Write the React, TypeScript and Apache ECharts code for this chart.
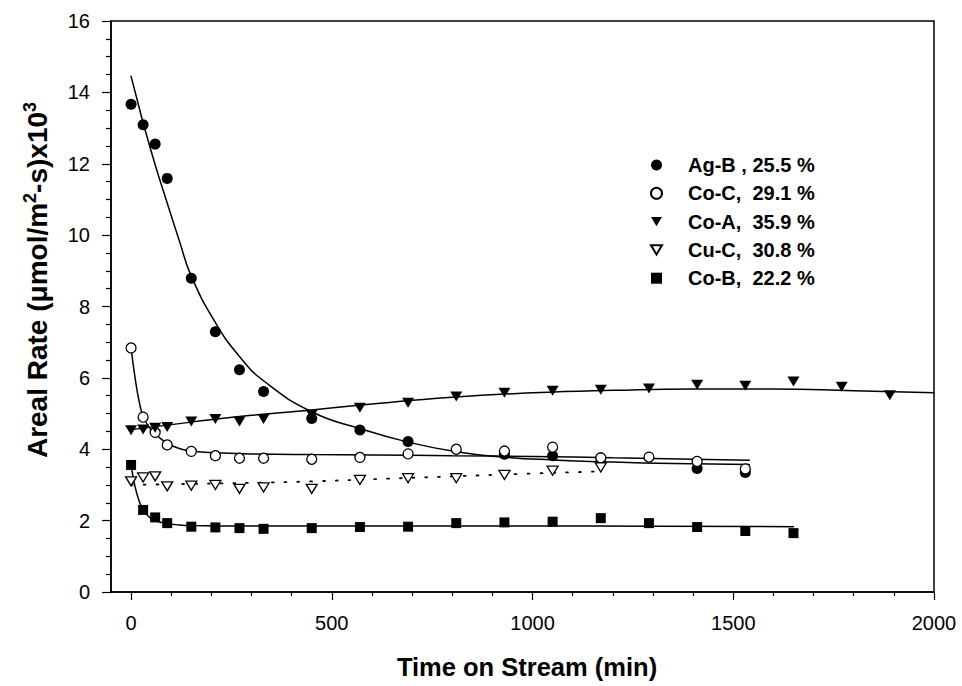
import React, { useEffect, useRef } from "react";
import * as echarts from "echarts";

const FONT = '"Liberation Sans", Arial, Helvetica, sans-serif';

// Sampling times (min)
const timesAgB = [0, 30, 60, 90, 150, 210, 270, 330, 450, 570, 690, 930, 1050, 1170, 1410, 1530];
const timesFull = [0, 30, 60, 90, 150, 210, 270, 330, 450, 570, 690, 810, 930, 1050, 1170, 1290, 1410, 1530];
const timesCoA = [0, 30, 60, 90, 150, 210, 270, 330, 450, 570, 690, 810, 930, 1050, 1170, 1290, 1410, 1530, 1650, 1770, 1890];
const timesCuC = [0, 30, 60, 90, 150, 210, 270, 330, 450, 570, 690, 810, 930, 1050, 1170];
const timesCoB = [0, 30, 60, 90, 150, 210, 270, 330, 450, 570, 690, 810, 930, 1050, 1170, 1290, 1410, 1530, 1650];

// Areal rate (µmol/m²·s × 10³)
const rateAgB = [13.67, 13.09, 12.55, 11.59, 8.79, 7.29, 6.23, 5.62, 4.86, 4.54, 4.22, 3.86, 3.82, 3.75, 3.46, 3.35];
const rateCoC = [6.84, 4.9, 4.47, 4.12, 3.94, 3.82, 3.75, 3.75, 3.72, 3.77, 3.87, 4.0, 3.95, 4.06, 3.76, 3.78, 3.66, 3.45];
const rateCoA = [4.53, 4.55, 4.6, 4.62, 4.78, 4.85, 4.78, 4.85, 4.97, 5.16, 5.3, 5.48, 5.58, 5.64, 5.67, 5.7, 5.81, 5.78, 5.9, 5.75, 5.51];
const rateCuC = [3.1, 3.21, 3.24, 2.96, 2.98, 3.0, 2.89, 2.93, 2.89, 3.14, 3.19, 3.19, 3.28, 3.4, 3.49];
const rateCoB = [3.56, 2.3, 2.09, 1.93, 1.83, 1.81, 1.79, 1.77, 1.79, 1.82, 1.83, 1.93, 1.95, 1.97, 2.07, 1.93, 1.82, 1.71, 1.65];

// Fitted trend curves: [time, rate]
const fitAgB = [[0, 14.45], [15, 13.8], [30, 13.15], [60, 11.97], [90, 10.9], [120, 9.85], [150, 8.85], [210, 7.55], [270, 6.6], [330, 5.92], [450, 5.05], [570, 4.58], [690, 4.2], [810, 3.93], [930, 3.78], [1050, 3.7], [1200, 3.64], [1350, 3.6], [1540, 3.57]];
const fitCoC = [[0, 6.84], [10, 6.0], [20, 5.35], [30, 4.92], [45, 4.62], [60, 4.43], [90, 4.17], [120, 4.02], [150, 3.95], [210, 3.9], [300, 3.87], [450, 3.85], [600, 3.84], [800, 3.82], [1000, 3.8], [1200, 3.76], [1400, 3.72], [1540, 3.69]];
const fitCoA = [[0, 4.55], [150, 4.76], [300, 4.95], [450, 5.1], [600, 5.27], [800, 5.46], [1000, 5.58], [1200, 5.65], [1400, 5.69], [1600, 5.69], [1800, 5.64], [2000, 5.58]];
const fitCuC = [[0, 3.0], [150, 3.03], [300, 3.06], [450, 3.1], [600, 3.16], [800, 3.24], [1000, 3.32], [1170, 3.38]];
const fitCoB = [[0, 3.56], [10, 2.95], [20, 2.55], [30, 2.3], [45, 2.1], [60, 2.0], [90, 1.92], [120, 1.88], [150, 1.86], [300, 1.85], [600, 1.85], [1000, 1.85], [1300, 1.84], [1650, 1.83]];

const legendNames = ["Ag-B , 25.5 %", "Co-C,  29.1 %", "Co-A,  35.9 %", "Cu-C,  30.8 %", "Co-B,  22.2 %"];

const xMajor = [0, 500, 1000, 1500, 2000];
const xMinor = [100, 200, 300, 400, 600, 700, 800, 900, 1100, 1200, 1300, 1400, 1600, 1700, 1800, 1900];

const DOWN_TRI = "path://M0,0L12,0L6,10Z";

const zip = (xs: number[], ys: number[]) => xs.map((x, i) => [x, ys[i]]);

const filled = { color: "#000", opacity: 1 };
const hollow = { color: "#fff", borderColor: "#000", borderWidth: 1.3, opacity: 1 };

function fitLine(name: string, data: number[][], dotted = false) {
  return {
    name,
    type: "line",
    data,
    showSymbol: false,
    smooth: 0.5,
    silent: true,
    z: 1,
    lineStyle: {
      color: "#000",
      width: dotted ? 1.8 : 1.5,
      type: dotted ? [1.8, 11] : "solid",
      cap: "round",
    },
  };
}

function markers(name: string, data: number[][], symbol: string, size: number | number[], style: any) {
  return {
    name,
    type: "scatter",
    data,
    symbol,
    symbolSize: size,
    itemStyle: style,
    z: 3,
  };
}

export default function App() {
  const ref = useRef<HTMLDivElement>(null);

  useEffect(() => {
    if (!ref.current) return;
    const chart = echarts.init(ref.current, undefined, { renderer: "svg" });

    const option = {
      animation: false,
      backgroundColor: "#fff",
      textStyle: { fontFamily: FONT },
      grid: {
        left: 111,
        right: 28,
        top: 21,
        bottom: 94,
        show: true,
        borderColor: "#000",
        borderWidth: 1.5,
        backgroundColor: "transparent",
      },
      xAxis: [
        {
          type: "value",
          min: -50,
          max: 2000,
          position: "bottom",
          axisLine: { show: true, onZero: false, lineStyle: { color: "#000", width: 1.5 } },
          axisTick: { show: true, customValues: xMajor, length: 8, lineStyle: { color: "#000", width: 1.2 } },
          axisLabel: {
            customValues: xMajor,
            formatter: (v: number) => String(v),
            fontSize: 20,
            color: "#000",
            margin: 21,
            fontFamily: FONT,
          },
          splitLine: { show: false },
        },
        {
          type: "value",
          min: -50,
          max: 2000,
          position: "bottom",
          offset: 0,
          axisLine: { show: false },
          axisTick: { show: true, customValues: xMinor, length: 4, lineStyle: { color: "#000", width: 1.2 } },
          axisLabel: { show: false },
          splitLine: { show: false },
        },
      ],
      yAxis: {
        type: "value",
        min: 0,
        max: 16,
        interval: 2,
        axisLine: { show: true, onZero: false, lineStyle: { color: "#000", width: 1.5 } },
        axisTick: { show: true, length: 9, lineStyle: { color: "#000", width: 1.2 } },
        minorTick: { show: true, splitNumber: 4, length: 5, lineStyle: { color: "#000", width: 1.2 } },
        axisLabel: { fontSize: 20, color: "#000", margin: 21, fontFamily: FONT },
        splitLine: { show: false },
        minorSplitLine: { show: false },
      },
      legend: {
        data: legendNames,
        orient: "vertical",
        left: 645,
        top: 150,
        itemWidth: 11,
        itemHeight: 11,
        itemGap: 8.3,
        selectedMode: false,
        textStyle: {
          fontSize: 20,
          fontWeight: "bold",
          color: "#000",
          fontFamily: FONT,
          padding: [0, 0, 0, 21],
        },
      },
      graphic: [
        {
          type: "text",
          x: 37,
          y: 280,
          rotation: Math.PI / 2,
          style: {
            text: "{b|Areal Rate (μmol/m}{s|2}{b|-s)x10}{s|3}",
            align: "center",
            verticalAlign: "middle",
            fill: "#000",
            rich: {
              b: { fontSize: 28, fontWeight: "bold", fontFamily: FONT, lineHeight: 32, fill: "#000" },
              s: { fontSize: 18, fontWeight: "bold", fontFamily: FONT, lineHeight: 18, verticalAlign: "top", fill: "#000" },
            },
          },
        },
        {
          type: "text",
          x: 527,
          y: 667,
          style: {
            text: "Time on Stream (min)",
            align: "center",
            verticalAlign: "middle",
            fontSize: 25.5,
            fontWeight: "bold",
            fontFamily: FONT,
            fill: "#000",
          },
        },
      ],
      series: [
        fitLine("Ag-B fit", fitAgB),
        fitLine("Co-C fit", fitCoC),
        fitLine("Co-A fit", fitCoA),
        fitLine("Cu-C fit", fitCuC, true),
        fitLine("Co-B fit", fitCoB),
        markers(legendNames[0], zip(timesAgB, rateAgB), "circle", 11, filled),
        markers(legendNames[1], zip(timesFull, rateCoC), "circle", 10, hollow),
        markers(legendNames[2], zip(timesCoA, rateCoA), DOWN_TRI, [12, 10], filled),
        markers(legendNames[3], zip(timesCuC, rateCuC), DOWN_TRI, [11, 9], hollow),
        markers(legendNames[4], zip(timesCoB, rateCoB), "rect", 10, filled),
      ],
    };

    chart.setOption(option as any);
    return () => chart.dispose();
  }, []);

  return (
    <div
      ref={ref}
      style={{ position: "fixed", left: 0, top: 0, width: 962, height: 686, background: "#fff" }}
    />
  );
}
